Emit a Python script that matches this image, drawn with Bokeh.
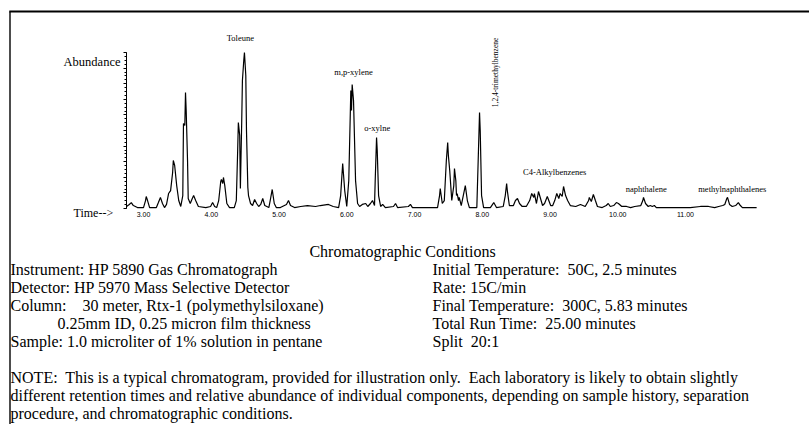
from bokeh.plotting import figure
from bokeh.models import (LinearAxis, FixedTicker, NumeralTickFormatter, Label,
                          Range1d, CustomJSTickFormatter)
from bokeh.embed import file_html
from bokeh.resources import INLINE

# ---------------- data ----------------
TIME = [2.75, 2.79, 2.82, 2.85, 2.91, 3.00, 3.03, 3.04, 3.06, 3.09, 3.19, 3.22, 3.25, 3.28, 3.31,
        3.34, 3.37, 3.40, 3.43, 3.44, 3.46, 3.49, 3.52, 3.55, 3.58, 3.59, 3.61, 3.62, 3.63, 3.65,
        3.66, 3.69, 3.72, 3.74, 3.77, 3.81, 3.92, 3.99, 4.02, 4.05, 4.08, 4.11, 4.14, 4.15, 4.17,
        4.18, 4.20, 4.23, 4.27, 4.34, 4.37, 4.39, 4.40, 4.42, 4.43, 4.45, 4.46, 4.48, 4.49, 4.51,
        4.52, 4.54, 4.55, 4.58, 4.61, 4.64, 4.67, 4.70, 4.73, 4.76, 4.79, 4.85, 4.87, 4.90, 4.93,
        4.96, 5.02, 5.11, 5.14, 5.17, 5.23, 5.32, 5.42, 5.54, 5.61, 5.73, 5.80, 5.88, 5.91, 5.94,
        5.97, 6.00, 6.03, 6.06, 6.07, 6.08, 6.10, 6.13, 6.16, 6.19, 6.23, 6.28, 6.31, 6.35, 6.38,
        6.41, 6.42, 6.44, 6.45, 6.47, 6.50, 6.53, 6.57, 6.69, 6.72, 6.75, 6.91, 6.94, 6.97, 7.34,
        7.37, 7.38, 7.41, 7.44, 7.47, 7.49, 7.50, 7.52, 7.55, 7.58, 7.59, 7.61, 7.62, 7.63, 7.65,
        7.66, 7.69, 7.72, 7.75, 7.78, 7.81, 7.92, 7.94, 7.96, 7.97, 7.99, 8.02, 8.12, 8.17, 8.21,
        8.31, 8.34, 8.36, 8.37, 8.40, 8.46, 8.49, 8.52, 8.55, 8.59, 8.65, 8.70, 8.73, 8.76, 8.77,
        8.80, 8.83, 8.86, 8.89, 8.92, 8.96, 9.01, 9.04, 9.07, 9.10, 9.13, 9.15, 9.18, 9.20, 9.23,
        9.26, 9.30, 9.38, 9.45, 9.52, 9.57, 9.58, 9.61, 9.64, 9.67, 9.70, 9.77, 9.83, 9.86, 9.89,
        9.94, 9.98, 10.01, 10.06, 10.13, 10.19, 10.25, 10.34, 10.37, 10.38, 10.41, 10.45, 10.48,
        10.51, 10.54, 10.57, 11.07, 11.22, 11.34, 11.43, 11.49, 11.55, 11.58, 11.61, 11.62, 11.65,
        11.69, 11.74, 11.78, 11.81, 11.84, 12.05]
ABUND = [1.3, 2.6, 3.8, 1.9, 0.6, 0.6, 5.1, 7.7, 5.1, 0.6, 0.6, 3.8, 7.1, 3.2, 0.6,
         2.6, 9.6, 11.5, 23.1, 30.8, 27.6, 14.7, 5.1, 1.3, 8.3, 54.5, 53.2, 74.4, 62.8, 30.8,
         6.4, 3.2, 6.4, 8.3, 5.1, 1.3, 0.6, 1.3, 3.8, 1.3, 0.6, 5.1, 17.3, 18.6, 16.0,
         19.9, 14.7, 3.2, 0.6, 0.6, 5.1, 37.2, 55.1, 46.8, 12.8, 56.4, 82.1, 94.9, 100.0, 85.3,
         50.0, 13.5, 8.3, 3.2, 1.9, 5.8, 3.2, 1.3, 2.6, 6.4, 1.9, 0.6, 5.1, 12.2, 3.2,
         0.6, 0.6, 2.6, 5.1, 1.9, 0.6, 1.3, 1.9, 1.3, 1.9, 2.6, 1.3, 0.6, 8.3, 28.8,
         11.5, 1.3, 17.9, 75.6, 62.8, 79.5, 69.2, 17.9, 3.2, 1.3, 2.6, 3.2, 1.3, 3.2, 5.1,
         1.9, 17.9, 45.5, 37.2, 8.3, 1.3, 2.6, 0.6, 1.3, 3.2, 0.6, 1.3, 2.6, 0.6, 0.6,
         8.3, 12.8, 3.2, 5.1, 30.8, 42.3, 34.0, 24.4, 5.1, 14.7, 25.6, 17.9, 8.3, 9.6, 5.1,
         7.1, 1.9, 8.3, 14.7, 5.1, 0.6, 0.6, 30.8, 61.5, 50.0, 8.3, 0.6, 0.6, 3.8, 0.6,
         1.3, 8.3, 16.0, 11.5, 1.9, 1.9, 5.1, 6.4, 3.2, 1.3, 1.3, 5.1, 9.6, 7.1, 9.6,
         3.2, 10.9, 6.4, 1.9, 3.2, 7.7, 1.9, 1.9, 5.1, 9.6, 6.4, 9.6, 7.7, 14.1, 8.3,
         5.1, 1.9, 1.3, 2.6, 1.3, 5.1, 7.1, 4.5, 9.0, 5.1, 1.3, 0.6, 1.9, 3.2, 1.3,
         1.9, 3.8, 3.2, 1.3, 1.3, 0.6, 1.3, 1.9, 5.1, 7.1, 3.2, 1.3, 1.9,
         1.3, 1.9, 0.6, 0.6, 1.3, 1.3, 0.6, 1.3, 1.9, 2.6, 6.4, 7.1, 2.6,
         1.3, 1.9, 3.8, 1.9, 0.6, 0.6]

TICK_TIMES = [3, 4, 5, 6, 7, 8, 9, 10, 11]

PEAK_NAMES = ["Toleune", "m,p-xylene", "o-xylne", "1,2,4-trimethylbenzene",
              "C4-Alkylbenzenes", "naphthalene", "methylnaphthalenes"]
PEAK_NAME_T = [4.43, 6.10, 6.45, 8.20, 9.07, 10.42, 11.69]
PEAK_NAME_A = [109.6, 87.8, 51.3, 87.2, 23.1, 12.2, 12.8]
PEAK_NAME_VERTICAL = [False, False, False, True, False, False, False]

TITLE = "Chromatographic Conditions"
LEFT_LINES = ["Instrument:  HP 5890 Gas Chromatograph",
              "Detector:  HP 5970 Mass Selective Detector",
              "Column:\u00a0\u00a0\u00a0 30 meter, Rtx-1 (polymethylsiloxane)",
              "0.25mm ID, 0.25 micron film thickness",
              "Sample: 1.0 microliter of 1% solution in pentane"]
RIGHT_LINES = ["Initial Temperature:\u00a0 50C, 2.5 minutes",
               "Rate: 15C/min",
               "Final Temperature:\u00a0 300C, 5.83 minutes",
               "Total Run Time:\u00a0 25.00 minutes",
               "Split\u00a0 20:1"]
NOTE_LINES = ["NOTE:\u00a0 This is a typical chromatogram, provided for illustration only.\u00a0 "
              "Each laboratory is likely to obtain slightly",
              "different retention times and relative abundance of individual components, "
              "depending on sample history, separation",
              "procedure, and chromatographic conditions."]

# ---------------- layout ----------------
W, H = 809, 424
PX_PER_MIN = 67.75
T3_PAGE_X = 143.0
PX_PER_UNIT = 1.56
BASE_PAGE_Y = 208.0


def tx(px):
    return 3 + (px - T3_PAGE_X) / PX_PER_MIN


def ay(py):
    return (BASE_PAGE_Y - py) / PX_PER_UNIT


SERIF = "Liberation Serif"
SANS = "Liberation Sans"

p = figure(width=W, height=H, output_backend="svg", toolbar_location=None,
           x_range=Range1d(tx(0), tx(W)), y_range=Range1d(ay(H), ay(0)),
           x_axis_type=None, y_axis_type=None, min_border=0)
p.outline_line_color = None
p.background_fill_color = "white"
p.border_fill_color = "white"

# page frame lines (decoration)
p.line([tx(9.5), tx(9.5)], [ay(H + 2), ay(11)], line_color="black", line_width=1.4)
p.line([tx(8.8), tx(W + 2)], [ay(11), ay(11)], line_color="black", line_width=2)

# abundance axis
yax = LinearAxis(fixed_location=tx(126), bounds=(0, 100),
                 ticker=FixedTicker(ticks=[v * 10 for v in range(11)],
                                    minor_ticks=[v * 2.5 for v in range(41)]),
                 formatter=CustomJSTickFormatter(code="return ''"),
                 axis_line_color="black", axis_line_width=1,
                 major_tick_in=0, major_tick_out=3, major_tick_line_color="black",
                 minor_tick_in=0, minor_tick_out=2, minor_tick_line_color="black",
                 major_label_text_font_size="1px")
p.add_layout(yax, "left")

# time axis labels
xax = LinearAxis(fixed_location=0, ticker=FixedTicker(ticks=TICK_TIMES, minor_ticks=[]),
                 formatter=NumeralTickFormatter(format="0.00"),
                 axis_line_color=None, major_tick_line_color=None, minor_tick_line_color=None,
                 major_tick_in=0, major_tick_out=0, minor_tick_in=0, minor_tick_out=0,
                 major_label_standoff=3, major_label_text_font=SANS,
                 major_label_text_font_size="7px", major_label_text_color="black")
p.add_layout(xax, "below")

# chromatogram trace
p.line(TIME, ABUND, line_color="black", line_width=1.2)

# peak names
for name, t, a, vert in zip(PEAK_NAMES, PEAK_NAME_T, PEAK_NAME_A, PEAK_NAME_VERTICAL):
    p.add_layout(Label(x=t, y=a, text=name, text_align="center", text_baseline="middle",
                       angle=1.5708 if vert else 0, text_font=SERIF,
                       text_font_size="7.5px" if vert else "8.5px", text_color="black"))

# axis captions
p.add_layout(Label(x=tx(120), y=ay(61), text="Abundance", text_align="right",
                   text_baseline="middle", text_font=SERIF, text_font_size="12.5px",
                   text_color="black"))
p.add_layout(Label(x=tx(73), y=ay(212), text="Time-->", text_align="left",
                   text_baseline="middle", text_font=SERIF, text_font_size="12px",
                   text_color="black"))

# conditions block
FS = "16px"
LINE_H = 18
TOP_Y = 251
RIGHT_X = 432
p.add_layout(Label(x=tx(402), y=ay(TOP_Y), text=TITLE, text_align="center",
                   text_baseline="middle", text_font=SERIF, text_font_size=FS,
                   text_color="black"))
for i, line in enumerate(LEFT_LINES):
    px = 57 if i == 3 else 10
    p.add_layout(Label(x=tx(px), y=ay(TOP_Y + LINE_H * (i + 1)), text=line, text_align="left",
                       text_baseline="middle", text_font=SERIF, text_font_size=FS,
                       text_color="black"))
for i, line in enumerate(RIGHT_LINES):
    p.add_layout(Label(x=tx(RIGHT_X), y=ay(TOP_Y + LINE_H * (i + 1)), text=line,
                       text_align="left", text_baseline="middle", text_font=SERIF,
                       text_font_size=FS, text_color="black"))
for i, line in enumerate(NOTE_LINES):
    p.add_layout(Label(x=tx(10), y=ay(TOP_Y + LINE_H * (i + 7)), text=line,
                       text_align="left", text_baseline="middle", text_font=SERIF,
                       text_font_size=FS, text_color="black"))

open("out.html", "w").write(file_html(p, INLINE))
